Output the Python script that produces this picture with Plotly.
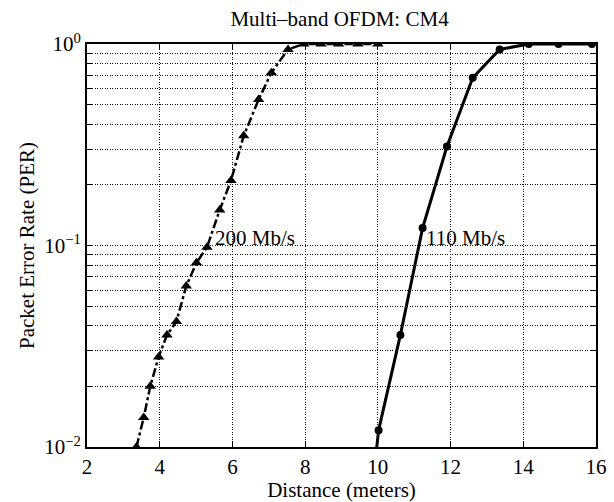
import plotly.graph_objects as go

# 200 Mb/s series (dash-dot, triangles)
dist_200 = [3.36, 3.56, 3.74, 3.97, 4.20, 4.46, 4.73, 5.01, 5.30, 5.65, 5.96, 6.31, 6.72, 7.07, 7.53,
            7.96, 8.44, 8.92, 9.45, 10.0]
per_200 = [0.010, 0.014, 0.020, 0.028, 0.036, 0.042, 0.063, 0.082, 0.098, 0.15, 0.21, 0.35, 0.53, 0.72, 0.94,
           1.0, 1.0, 1.0, 1.0, 1.0]

# 110 Mb/s series (solid, circles)
dist_110 = [9.7, 10.02, 10.62, 11.23, 11.90, 12.61, 13.35, 14.15, 14.97, 15.89]
per_110 = [0.0035, 0.0121, 0.036, 0.122, 0.31, 0.68, 0.94, 1.0, 1.0, 1.0]

x_ticks = [2, 4, 6, 8, 10, 12, 14, 16]
y_grid = [m * 10 ** e for e in (-2, -1) for m in range(1, 10)] + [1.0]
y_text = {0.01: "10<sup>−2</sup>", 0.1: "10<sup>−1</sup>", 1.0: "10<sup>0</sup>"}

FONT = "Liberation Serif"
GRID_DASH = "1px,1.5px"

fig = go.Figure()
fig.add_trace(go.Scatter(
    x=dist_200, y=per_200, mode="lines+markers", name="200 Mb/s",
    line=dict(color="black", width=2.5, dash="dashdot"),
    marker=dict(symbol="triangle-up", size=10, color="black"),
))
fig.add_trace(go.Scatter(
    x=dist_110, y=per_110, mode="lines+markers", name="110 Mb/s",
    line=dict(color="black", width=3),
    marker=dict(symbol="circle", size=8, color="black"),
))

fig.add_annotation(x=5.47, y=-0.962, xref="x", yref="y", text="200 Mb/s", showarrow=False,
                   xanchor="left", yanchor="middle", font=dict(family=FONT, size=21, color="black"))
fig.add_annotation(x=11.28, y=-0.962, xref="x", yref="y", text="110 Mb/s", showarrow=False,
                   xanchor="left", yanchor="middle", font=dict(family=FONT, size=21, color="black"))

fig.update_layout(
    width=614, height=502,
    margin=dict(l=87, r=18, t=44, b=55),
    paper_bgcolor="white", plot_bgcolor="white",
    showlegend=False,
    font=dict(family=FONT, size=21, color="black"),
    title=dict(text="Multi–band OFDM: CM4", x=0.553, xanchor="center", y=0.962, yanchor="middle",
               font=dict(family=FONT, size=21, color="black")),
)
fig.update_xaxes(
    range=[2, 16], tickvals=x_ticks, ticktext=[str(v) for v in x_ticks],
    showgrid=True, gridcolor="#111", griddash=GRID_DASH, gridwidth=1,
    showline=True, linecolor="black", linewidth=2, mirror="ticks",
    ticks="inside", ticklen=6, tickcolor="black",
    zeroline=False, automargin=False,
    tickfont=dict(family=FONT, size=21),
    title=dict(text="Distance (meters)", standoff=2, font=dict(family=FONT, size=21)),
)
fig.update_yaxes(
    type="log", range=[-2, 0], tickvals=y_grid, ticktext=[y_text.get(v, "") for v in y_grid],
    showgrid=True, gridcolor="#111", griddash=GRID_DASH, gridwidth=1,
    showline=True, linecolor="black", linewidth=2, mirror="ticks",
    ticks="inside", ticklen=5, tickcolor="black",
    zeroline=False, automargin=False,
    tickfont=dict(family=FONT, size=21),
    title=dict(text="Packet Error Rate (PER)", standoff=4, font=dict(family=FONT, size=21)),
)

fig.write_html("out.html")
